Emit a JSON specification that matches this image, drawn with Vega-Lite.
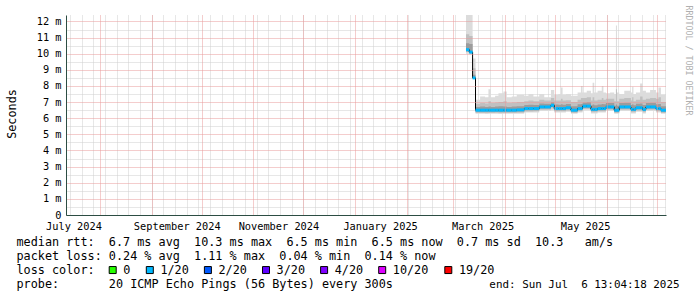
{
  "$schema": "https://vega.github.io/schema/vega-lite/v6.json",
  "width": 600,
  "height": 200,
  "autosize": {"type": "none"},
  "padding": {"left": 66, "top": 15, "right": 31, "bottom": 82},
  "background": "#ffffff",
  "config": {"view": {"stroke": null}, "font": "DejaVu Sans Mono"},
  "data": {"values": [
    {"t": "2025-03-08T13:00:00", "med": 10.25, "lo": 10.0, "mlo": 10.1, "dlo": 10.15, "dhi": 10.65, "mhi": 11.2, "hi": 12.4, "loss": "1/20"},
    {"t": "2025-03-10T12:00:00", "med": 10.1, "lo": 9.95, "mlo": 10.0, "dlo": 10.05, "dhi": 10.6, "mhi": 11.1, "hi": 12.4, "loss": "1/20"},
    {"t": "2025-03-12T12:00:00", "med": 8.5, "lo": 8.45, "mlo": 8.47, "dlo": 8.48, "dhi": 8.7, "mhi": 9.1, "hi": 9.7, "loss": "1/20"},
    {"t": "2025-03-14T06:00:00", "med": 6.5, "lo": 6.27, "mlo": 6.33, "dlo": 6.4, "dhi": 6.7, "mhi": 6.9, "hi": 7.15, "loss": "1/20"},
    {"t": "2025-03-17T00:00:00", "med": 6.5, "lo": 6.27, "mlo": 6.33, "dlo": 6.4, "dhi": 6.72, "mhi": 6.95, "hi": 7.35, "loss": "1/20"},
    {"t": "2025-03-20T00:00:00", "med": 6.5, "lo": 6.26, "mlo": 6.32, "dlo": 6.4, "dhi": 6.7, "mhi": 6.92, "hi": 7.3, "loss": "1/20"},
    {"t": "2025-03-22T00:00:00", "med": 6.5, "lo": 6.27, "mlo": 6.33, "dlo": 6.4, "dhi": 6.72, "mhi": 7.05, "hi": 7.8, "loss": "1/20"},
    {"t": "2025-03-23T12:00:00", "med": 6.5, "lo": 6.27, "mlo": 6.33, "dlo": 6.4, "dhi": 6.7, "mhi": 6.95, "hi": 7.3, "loss": "1/20"},
    {"t": "2025-03-26T00:00:00", "med": 6.5, "lo": 6.27, "mlo": 6.34, "dlo": 6.4, "dhi": 6.72, "mhi": 6.98, "hi": 7.4, "loss": "1/20"},
    {"t": "2025-03-28T00:00:00", "med": 6.5, "lo": 6.26, "mlo": 6.33, "dlo": 6.4, "dhi": 6.74, "mhi": 7.0, "hi": 7.55, "loss": "1/20"},
    {"t": "2025-03-31T00:00:00", "med": 6.5, "lo": 6.27, "mlo": 6.33, "dlo": 6.4, "dhi": 6.72, "mhi": 7.05, "hi": 7.65, "loss": "1/20"},
    {"t": "2025-04-02T00:00:00", "med": 6.5, "lo": 6.27, "mlo": 6.33, "dlo": 6.4, "dhi": 6.7, "mhi": 6.95, "hi": 7.3, "loss": "1/20"},
    {"t": "2025-04-05T00:00:00", "med": 6.5, "lo": 6.27, "mlo": 6.33, "dlo": 6.4, "dhi": 6.72, "mhi": 6.97, "hi": 7.35, "loss": "1/20"},
    {"t": "2025-04-08T00:00:00", "med": 6.52, "lo": 6.28, "mlo": 6.34, "dlo": 6.42, "dhi": 6.74, "mhi": 7.0, "hi": 7.45, "loss": "1/20"},
    {"t": "2025-04-12T12:00:00", "med": 6.6, "lo": 6.35, "mlo": 6.42, "dlo": 6.5, "dhi": 6.82, "mhi": 7.05, "hi": 7.4, "loss": "1/20"},
    {"t": "2025-04-15T00:00:00", "med": 6.6, "lo": 6.35, "mlo": 6.42, "dlo": 6.5, "dhi": 6.84, "mhi": 7.1, "hi": 7.5, "loss": "1/20"},
    {"t": "2025-04-18T00:00:00", "med": 6.6, "lo": 6.36, "mlo": 6.43, "dlo": 6.5, "dhi": 6.82, "mhi": 7.05, "hi": 7.35, "loss": "1/20"},
    {"t": "2025-04-21T12:00:00", "med": 6.7, "lo": 6.45, "mlo": 6.52, "dlo": 6.6, "dhi": 6.92, "mhi": 7.15, "hi": 7.5, "loss": "1/20"},
    {"t": "2025-04-24T12:00:00", "med": 6.7, "lo": 6.45, "mlo": 6.52, "dlo": 6.6, "dhi": 6.9, "mhi": 7.1, "hi": 7.3, "loss": "1/20"},
    {"t": "2025-04-28T12:00:00", "med": 6.8, "lo": 6.5, "mlo": 6.6, "dlo": 6.7, "dhi": 7.0, "mhi": 7.25, "hi": 7.75, "loss": "1/20"},
    {"t": "2025-04-30T12:00:00", "med": 6.6, "lo": 6.36, "mlo": 6.43, "dlo": 6.5, "dhi": 6.85, "mhi": 7.1, "hi": 7.45, "loss": "1/20"},
    {"t": "2025-05-03T00:00:00", "med": 6.6, "lo": 6.36, "mlo": 6.43, "dlo": 6.5, "dhi": 6.84, "mhi": 7.1, "hi": 7.5, "loss": "1/20"},
    {"t": "2025-05-04T12:00:00", "med": 6.6, "lo": 6.36, "mlo": 6.43, "dlo": 6.5, "dhi": 6.86, "mhi": 7.2, "hi": 7.9, "loss": "1/20"},
    {"t": "2025-05-05T12:00:00", "med": 6.6, "lo": 6.36, "mlo": 6.43, "dlo": 6.5, "dhi": 6.84, "mhi": 7.1, "hi": 7.45, "loss": "1/20"},
    {"t": "2025-05-07T12:00:00", "med": 6.65, "lo": 6.4, "mlo": 6.47, "dlo": 6.55, "dhi": 6.88, "mhi": 7.12, "hi": 7.5, "loss": "1/20"},
    {"t": "2025-05-10T12:00:00", "med": 6.5, "lo": 6.27, "mlo": 6.33, "dlo": 6.4, "dhi": 6.75, "mhi": 7.0, "hi": 7.4, "loss": "1/20"},
    {"t": "2025-05-14T12:00:00", "med": 6.6, "lo": 6.36, "mlo": 6.43, "dlo": 6.5, "dhi": 6.86, "mhi": 7.15, "hi": 7.6, "loss": "1/20"},
    {"t": "2025-05-16T12:00:00", "med": 6.6, "lo": 6.36, "mlo": 6.43, "dlo": 6.5, "dhi": 6.88, "mhi": 7.25, "hi": 8.0, "loss": "1/20"},
    {"t": "2025-05-17T12:00:00", "med": 6.75, "lo": 6.5, "mlo": 6.57, "dlo": 6.65, "dhi": 6.98, "mhi": 7.25, "hi": 7.6, "loss": "1/20"},
    {"t": "2025-05-20T00:00:00", "med": 6.75, "lo": 6.5, "mlo": 6.57, "dlo": 6.65, "dhi": 7.0, "mhi": 7.3, "hi": 7.7, "loss": "1/20"},
    {"t": "2025-05-22T12:00:00", "med": 6.55, "lo": 6.3, "mlo": 6.37, "dlo": 6.45, "dhi": 6.8, "mhi": 7.1, "hi": 7.55, "loss": "1/20"},
    {"t": "2025-05-23T12:00:00", "med": 6.55, "lo": 6.3, "mlo": 6.37, "dlo": 6.45, "dhi": 6.85, "mhi": 7.3, "hi": 8.2, "loss": "1/20"},
    {"t": "2025-05-24T12:00:00", "med": 6.55, "lo": 6.3, "mlo": 6.37, "dlo": 6.45, "dhi": 6.8, "mhi": 7.1, "hi": 7.6, "loss": "1/20"},
    {"t": "2025-05-26T12:00:00", "med": 6.6, "lo": 6.36, "mlo": 6.43, "dlo": 6.5, "dhi": 6.85, "mhi": 7.15, "hi": 7.7, "loss": "1/20"},
    {"t": "2025-05-29T00:00:00", "med": 6.6, "lo": 6.36, "mlo": 6.43, "dlo": 6.5, "dhi": 6.88, "mhi": 7.25, "hi": 8.0, "loss": "1/20"},
    {"t": "2025-05-30T00:00:00", "med": 6.6, "lo": 6.36, "mlo": 6.43, "dlo": 6.5, "dhi": 6.86, "mhi": 7.15, "hi": 7.6, "loss": "1/20"},
    {"t": "2025-05-31T12:00:00", "med": 6.7, "lo": 6.45, "mlo": 6.52, "dlo": 6.6, "dhi": 6.94, "mhi": 7.2, "hi": 7.55, "loss": "1/20"},
    {"t": "2025-06-03T00:00:00", "med": 6.7, "lo": 6.45, "mlo": 6.52, "dlo": 6.6, "dhi": 6.95, "mhi": 7.2, "hi": 7.6, "loss": "1/20"},
    {"t": "2025-06-05T12:00:00", "med": 6.5, "lo": 6.27, "mlo": 6.33, "dlo": 6.4, "dhi": 6.78, "mhi": 7.05, "hi": 7.5, "loss": "1/20"},
    {"t": "2025-06-06T12:00:00", "med": 6.5, "lo": 6.27, "mlo": 6.33, "dlo": 6.4, "dhi": 6.85, "mhi": 7.8, "hi": 11.75, "loss": "1/20"},
    {"t": "2025-06-07T03:00:00", "med": 6.5, "lo": 6.27, "mlo": 6.33, "dlo": 6.4, "dhi": 6.78, "mhi": 7.05, "hi": 7.6, "loss": "1/20"},
    {"t": "2025-06-08T12:00:00", "med": 6.7, "lo": 6.45, "mlo": 6.52, "dlo": 6.6, "dhi": 6.95, "mhi": 7.2, "hi": 7.5, "loss": "1/20"},
    {"t": "2025-06-11T12:00:00", "med": 6.7, "lo": 6.45, "mlo": 6.52, "dlo": 6.6, "dhi": 6.96, "mhi": 7.25, "hi": 7.7, "loss": "1/20"},
    {"t": "2025-06-15T12:00:00", "med": 6.55, "lo": 6.3, "mlo": 6.37, "dlo": 6.45, "dhi": 6.82, "mhi": 7.1, "hi": 7.6, "loss": "1/20"},
    {"t": "2025-06-16T06:00:00", "med": 6.55, "lo": 6.3, "mlo": 6.37, "dlo": 6.45, "dhi": 6.86, "mhi": 7.3, "hi": 7.95, "loss": "1/20"},
    {"t": "2025-06-17T00:00:00", "med": 6.55, "lo": 6.3, "mlo": 6.37, "dlo": 6.45, "dhi": 6.8, "mhi": 7.05, "hi": 7.5, "loss": "1/20"},
    {"t": "2025-06-18T12:00:00", "med": 6.65, "lo": 6.4, "mlo": 6.47, "dlo": 6.55, "dhi": 6.9, "mhi": 7.15, "hi": 7.6, "loss": "1/20"},
    {"t": "2025-06-21T00:00:00", "med": 6.65, "lo": 6.4, "mlo": 6.47, "dlo": 6.55, "dhi": 6.92, "mhi": 7.35, "hi": 8.15, "loss": "1/20"},
    {"t": "2025-06-22T12:00:00", "med": 6.55, "lo": 6.3, "mlo": 6.37, "dlo": 6.45, "dhi": 6.82, "mhi": 7.15, "hi": 7.7, "loss": "1/20"},
    {"t": "2025-06-24T12:00:00", "med": 6.7, "lo": 6.45, "mlo": 6.52, "dlo": 6.6, "dhi": 6.95, "mhi": 7.2, "hi": 7.6, "loss": "1/20"},
    {"t": "2025-06-27T00:00:00", "med": 6.7, "lo": 6.45, "mlo": 6.52, "dlo": 6.6, "dhi": 6.96, "mhi": 7.25, "hi": 7.75, "loss": "1/20"},
    {"t": "2025-06-30T12:00:00", "med": 6.6, "lo": 6.36, "mlo": 6.43, "dlo": 6.5, "dhi": 6.86, "mhi": 7.2, "hi": 7.6, "loss": "1/20"},
    {"t": "2025-07-02T00:00:00", "med": 6.6, "lo": 6.36, "mlo": 6.43, "dlo": 6.5, "dhi": 6.88, "mhi": 7.3, "hi": 7.9, "loss": "1/20"},
    {"t": "2025-07-03T12:00:00", "med": 6.5, "lo": 6.27, "mlo": 6.33, "dlo": 6.4, "dhi": 6.75, "mhi": 7.0, "hi": 7.45, "loss": "1/20"},
    {"t": "2025-07-06T13:04:18", "med": 6.5, "lo": 6.27, "mlo": 6.33, "dlo": 6.4, "dhi": 6.75, "mhi": 7.0, "hi": 7.45, "loss": "1/20"}
  ]},
  "layer": [
    {
      "mark": {"type": "area", "interpolate": "step-after", "color": "#dcdcdc"},
      "encoding": {
        "x": {"field": "t", "type": "temporal",
          "scale": {"domain": [{"year": 2024, "month": 7, "date": 11, "hours": 13, "minutes": 4, "seconds": 18}, {"year": 2025, "month": 7, "date": 6, "hours": 13, "minutes": 4, "seconds": 18}], "nice": false},
          "axis": {"orient": "bottom", "grid": true, "gridColor": "#cfcfcf", "gridDash": [1, 1], "gridWidth": 1, "tickCount": {"interval": "week", "step": 1}, "labels": false, "ticks": false, "domain": false, "title": null, "zindex": 0}},
        "y": {"field": "lo", "type": "quantitative",
          "scale": {"domain": [0, 12.4], "nice": false, "zero": false},
          "axis": {"orient": "left", "grid": true, "gridColor": "#cfcfcf", "gridDash": [1, 1], "values": [0.5, 1.5, 2.5, 3.5, 4.5, 5.5, 6.5, 7.5, 8.5, 9.5, 10.5, 11.5], "labels": false, "ticks": false, "domain": false, "title": null, "zindex": 0}},
        "y2": {"field": "hi"}
      }
    },
    {
      "mark": {"type": "area", "interpolate": "step-after", "color": "#c0c0c0"},
      "encoding": {
        "x": {"field": "t", "type": "temporal",
          "scale": {"domain": [{"year": 2024, "month": 7, "date": 11, "hours": 13, "minutes": 4, "seconds": 18}, {"year": 2025, "month": 7, "date": 6, "hours": 13, "minutes": 4, "seconds": 18}], "nice": false},
          "axis": {"orient": "bottom", "grid": true, "gridColor": "#e99a9a", "gridDash": [1, 1], "gridWidth": 1, "tickCount": {"interval": "month", "step": 1}, "labels": false, "ticks": false, "domain": false, "title": null, "zindex": 1}},
        "y": {"field": "mlo", "type": "quantitative",
          "scale": {"domain": [0, 12.4], "nice": false, "zero": false},
          "axis": {"orient": "left", "grid": true, "gridColor": "#e99a9a", "gridDash": [1, 1], "values": [0, 1, 2, 3, 4, 5, 6, 7, 8, 9, 10, 11, 12],
            "labelExpr": "datum.value == 0 ? '0' : datum.value + ' m'", "labelFont": "DejaVu Sans Mono", "labelFontSize": 10.3, "labelColor": "#000000", "labelPadding": 5, "ticks": false, "tickSize": 0,
            "domain": true, "domainColor": "#2c4d43", "domainWidth": 1,
            "title": "Seconds", "titleFont": "DejaVu Sans Mono", "titleFontSize": 11.8, "titleFontWeight": "normal", "titleColor": "#000000", "titleAngle": 270, "titleX": -55, "titleY": 98.5, "titleAlign": "center", "titleBaseline": "middle", "zindex": 1}},
        "y2": {"field": "mhi"}
      }
    },
    {
      "mark": {"type": "area", "interpolate": "step-after", "color": "#9c9c9c"},
      "encoding": {
        "x": {"field": "t", "type": "temporal",
          "scale": {"domain": [{"year": 2024, "month": 7, "date": 11, "hours": 13, "minutes": 4, "seconds": 18}, {"year": 2025, "month": 7, "date": 6, "hours": 13, "minutes": 4, "seconds": 18}], "nice": false},
          "axis": {"orient": "bottom", "grid": false,
            "values": [{"year": 2024, "month": 7, "date": 16}, {"year": 2024, "month": 9, "date": 16}, {"year": 2024, "month": 11, "date": 16}, {"year": 2025, "month": 1, "date": 16}, {"year": 2025, "month": 3, "date": 18, "hours": 12}, {"year": 2025, "month": 5, "date": 19}],
            "format": "%B %Y", "labelFont": "DejaVu Sans Mono", "labelFontSize": 10.3, "labelColor": "#000000", "labelPadding": 6, "labelFlush": false, "labelOverlap": false, "labelBaseline": "top",
            "ticks": false, "tickSize": 0, "domain": true, "domainColor": "#2c4d43", "domainWidth": 1,
            "title": ["median rtt: \u00a06.7 ms avg \u00a010.3 ms max \u00a06.5 ms min \u00a06.5 ms now \u00a00.7 ms sd \u00a010.3 \u00a0\u00a0am/s", "packet loss: 0.24 % avg \u00a01.11 % max \u00a00.04 % min \u00a00.14 % now", "loss color:", "probe: \u00a0\u00a0\u00a0\u00a0\u00a0\u00a020 ICMP Echo Pings (56 Bytes) every 300s"],
            "titleFont": "DejaVu Sans Mono", "titleFontSize": 11.8, "titleFontWeight": "normal", "titleColor": "#000000", "titleAlign": "left", "titleAnchor": "start", "titleBaseline": "alphabetic", "titleX": -50, "titleY": 30.3, "titleLineHeight": 14.15, "zindex": 1}},
        "y": {"field": "dlo", "type": "quantitative",
          "scale": {"domain": [0, 12.4], "nice": false, "zero": false},
          "axis": {"orient": "right", "grid": false, "labels": false, "ticks": false, "domain": false,
            "title": "RRDTOOL / TOBI OETIKER", "titleFont": "DejaVu Sans Mono", "titleFontSize": 8.3, "titleFontWeight": "normal", "titleColor": "#b0b0b0", "titleAngle": 90, "titleX": 21.5, "titleY": -10, "titleAlign": "left", "titleBaseline": "middle"}},
        "y2": {"field": "dhi"}
      }
    },
    {
      "mark": {"type": "line", "interpolate": "step-after", "color": "#000000", "strokeWidth": 1},
      "encoding": {
        "x": {"field": "t", "type": "temporal",
          "scale": {"domain": [{"year": 2024, "month": 7, "date": 11, "hours": 13, "minutes": 4, "seconds": 18}, {"year": 2025, "month": 7, "date": 6, "hours": 13, "minutes": 4, "seconds": 18}], "nice": false},
          "axis": {"orient": "bottom", "grid": false, "labels": false, "ticks": false, "domain": false,
            "title": "end: Sun Jul \u00a06 13:04:18 2025", "titleFont": "DejaVu Sans Mono", "titleFontSize": 10.9, "titleFontWeight": "normal", "titleColor": "#000000", "titleAlign": "right", "titleAnchor": "end", "titleBaseline": "alphabetic", "titleX": 613, "titleY": 72.7}},
        "y": {"field": "med", "type": "quantitative",
          "scale": {"domain": [0, 12.4], "nice": false, "zero": false}, "axis": null}
      }
    },
    {
      "transform": [
        {"window": [{"op": "lead", "field": "t", "as": "t2"}], "sort": [{"field": "t"}]},
        {"filter": "datum.t2 != null"}
      ],
      "mark": {"type": "rule", "strokeWidth": 3, "color": "#00b8ff", "strokeCap": "butt"},
      "encoding": {
        "x": {"field": "t", "type": "temporal",
          "scale": {"domain": [{"year": 2024, "month": 7, "date": 11, "hours": 13, "minutes": 4, "seconds": 18}, {"year": 2025, "month": 7, "date": 6, "hours": 13, "minutes": 4, "seconds": 18}], "nice": false}, "axis": null},
        "x2": {"field": "t2"},
        "y": {"field": "med", "type": "quantitative",
          "scale": {"domain": [0, 12.4], "nice": false, "zero": false}, "axis": null}
      }
    },
    {
      "transform": [{"filter": "false"}],
      "mark": {"type": "square", "opacity": 1, "filled": true},
      "encoding": {
        "x": {"field": "t", "type": "temporal",
          "scale": {"domain": [{"year": 2024, "month": 7, "date": 11, "hours": 13, "minutes": 4, "seconds": 18}, {"year": 2025, "month": 7, "date": 6, "hours": 13, "minutes": 4, "seconds": 18}], "nice": false}, "axis": null},
        "y": {"field": "med", "type": "quantitative",
          "scale": {"domain": [0, 12.4], "nice": false, "zero": false}, "axis": null},
        "color": {"field": "loss", "type": "nominal",
          "scale": {"domain": ["0", "1/20", "2/20", "3/20", "4/20", "10/20", "19/20"], "range": ["#26ff00", "#00b8ff", "#0059ff", "#5e00ff", "#7e00ff", "#dd00ff", "#ff0000"]},
          "legend": {"orient": "none", "legendX": 40.8, "legendY": 249, "direction": "horizontal", "columns": 7, "title": null, "padding": 0,
            "symbolType": "square", "symbolSize": 49, "symbolStrokeWidth": 1, "symbolStrokeColor": "#000000", "symbolOpacity": 1,
            "labelFont": "DejaVu Sans Mono", "labelFontSize": 11.8, "labelColor": "#000000", "labelOffset": 4.7, "columnPadding": 13.1}}
      }
    }
  ],
  "resolve": {"axis": {"x": "independent", "y": "independent"}}
}
